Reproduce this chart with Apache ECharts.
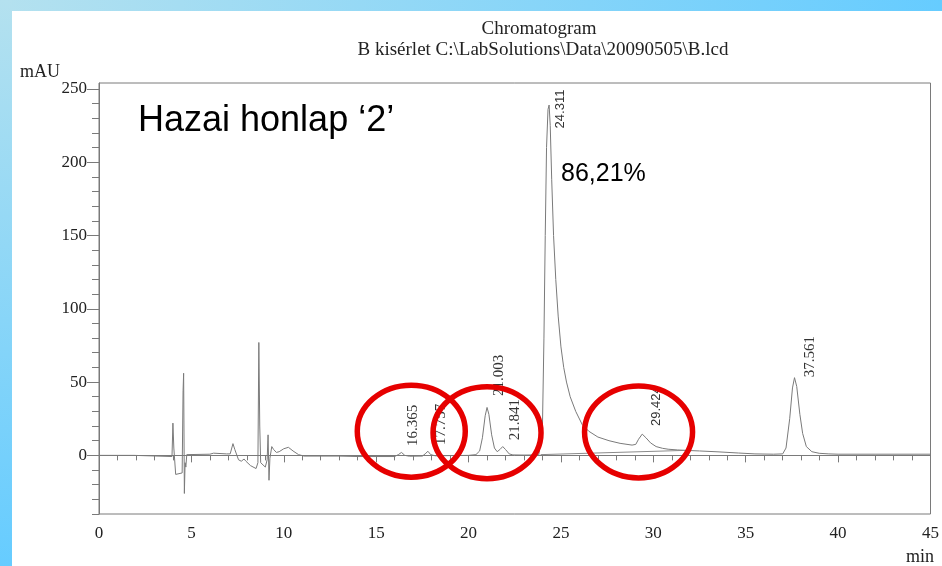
<!DOCTYPE html>
<html>
<head>
<meta charset="utf-8">
<script src="https://cdn.jsdelivr.net/npm/echarts@6/dist/echarts.min.js"></script>
<style>
  html, body { margin: 0; padding: 0; background: #fff; }
  #wrap { position: relative; width: 942px; height: 566px; background: #fff; overflow: hidden; }
  #topBand { position: absolute; left: 0; top: 0; width: 942px; height: 11px; background: linear-gradient(to right, #b4e1ef, #66ccff); }
  #leftBand { position: absolute; left: 0; top: 0; width: 12px; height: 566px; background: linear-gradient(to bottom, #b4e1ef, #66ccff); }
  #main { position: absolute; left: 0; top: 0; width: 942px; height: 566px; }
</style>
</head>
<body>
<div id="wrap">
  <div id="topBand"></div>
  <div id="leftBand"></div>
  <div id="main"></div>
</div>
<script>
// detector signal (min, mAU)
var timeMin = [
  0, 1.9, 1.95, 3.95, 4.0, 4.05, 4.15, 4.2, 4.5, 4.55, 4.58, 4.62, 4.66, 4.7, 4.75,
  6.0, 6.2, 6.3, 6.9, 7.0, 7.1, 7.25, 7.35, 7.55, 7.7, 7.85, 7.95, 8.2, 8.5, 8.6,
  8.65, 8.7, 8.75, 8.85, 9.0, 9.1, 9.15, 9.2, 9.25, 9.35, 9.45, 9.6, 9.75, 10.0,
  10.25, 10.5, 10.8, 11.1, 12, 13, 14, 16.0, 16.2, 16.37, 16.55, 16.8, 17.5, 17.65,
  17.8, 17.95, 18.2, 20.0, 20.4, 20.6, 20.75, 20.9, 21.0, 21.1, 21.25, 21.4, 21.55,
  21.7, 21.85, 22.0, 22.2, 22.4, 23.0, 23.8, 23.9, 24.0, 24.08, 24.15, 24.22, 24.3,
  24.36, 24.42, 24.5, 24.6, 24.72, 24.85, 25.0, 25.15, 25.3, 25.5, 25.8, 26.15, 26.5,
  27.0, 27.6, 28.2, 28.85, 29.05, 29.2, 29.4, 29.6, 29.85, 30.15, 30.5, 30.8, 31.3,
  31.75, 32.5, 33.5, 34.6, 35.5, 36.5, 37.0, 37.18, 37.38, 37.53, 37.64, 37.76, 37.93,
  38.08, 38.28, 38.58, 38.98, 39.5, 40, 42, 45
];
var absMau = [
  0, 0, -0.8, -0.8, 22, 5, -13, -12, -12, 44, 56, -26, -5, -8, 0.5,
  0.8, 1.5, 0.8, 1, 2, 1, 8, 4, -3, -4, -2.5, -4, -7, -9, -5,
  77, 20, -5, -4, -8, -3, 14, -17, -2, 6, 4, 2, 2.5, 4.5,
  5.5, 3, 0.5, -0.5, -0.5, -0.5, -0.8, -0.8, 0.5, 2, 0, -0.6, -0.5, 1,
  2.8, 0.5, -0.3, 0, 0.5, 3, 12, 27, 32.7, 28, 14, 5, 2.5,
  4, 6, 4, 1, 0.3, 0.2, 0.3, 1, 20, 80, 150, 210, 236,
  239, 225, 188, 150, 120, 95, 74, 60, 50, 40, 30, 21, 16.5,
  12.5, 10, 8.2, 7, 7.5, 11, 14.5, 12, 8.5, 6, 4.8, 4.2, 3.7,
  3.4, 3.0, 2.4, 1.6, 1.0, 0.8, 1, 5, 25, 46, 53, 47, 28,
  15, 6, 2.5, 1.4, 1, 0.8, 0.8, 0.8
];

// integration baseline drawn under the main peak
var baseTime = [23.9, 31.75];
var baseMau = [0.5, 3.4];

// peak retention-time labels
var peakNames = ['16.365', '17.757', '21.003', '21.841', '24.311', '29.424', '37.561'];
var peakTime = [16.37, 17.8, 21.0, 21.85, 24.36, 29.4, 37.64];
var peakMau = [2, 2.8, 32.7, 6, 239, 14.5, 53];

// axis ticks
var xTickLabels = [0, 5, 10, 15, 20, 25, 30, 35, 40, 45];
var yTickLabels = [0, 50, 100, 150, 200, 250];
var yMinorTicks = [-40, -30, -20, -10, 0, 10, 20, 30, 40, 50, 60, 70, 80, 90, 100, 110, 120,
  130, 140, 150, 160, 170, 180, 190, 200, 210, 220, 230, 240, 250];

// red hand-drawn rings (centre in data units)
var ringTime = [16.9, 21.0, 29.2];
var ringMau = [16.5, 15.5, 16];

var serif = '"Liberation Serif", "DejaVu Serif", serif';
var sans = '"Liberation Sans", Arial, sans-serif';

var chart = echarts.init(document.getElementById('main'));

var signal = timeMin.map(function (t, i) { return [t, absMau[i]]; });
var baseline = baseTime.map(function (t, i) { return [t, baseMau[i]]; });

var option = {
  animation: false,
  backgroundColor: 'transparent',
  grid: {
    left: 99, right: 10, top: 83, bottom: 52,
    show: true, borderColor: '#7a7a7a', borderWidth: 1, backgroundColor: 'transparent'
  },
  xAxis: {
    type: 'value', min: 0, max: 45, interval: 5,
    axisLine: { show: true, lineStyle: { color: '#7a7a7a', width: 1 } },
    axisTick: { show: true, length: 7, lineStyle: { color: '#7a7a7a' } },
    minorTick: { show: true, splitNumber: 5, length: 5, lineStyle: { color: '#7a7a7a' } },
    axisLabel: {
      customValues: xTickLabels,
      margin: 11, color: '#222', fontFamily: serif, fontSize: 17
    },
    splitLine: { show: false }
  },
  yAxis: [{
    type: 'value', min: -40, max: 254,
    axisLine: { show: true, lineStyle: { color: '#7a7a7a', width: 1 } },
    axisTick: { show: true, customValues: yMinorTicks, length: 7, lineStyle: { color: '#7a7a7a' } },
    axisLabel: {
      customValues: yTickLabels,
      margin: 12, color: '#222', fontFamily: serif, fontSize: 17
    },
    splitLine: { show: false }
  }, {
    type: 'value', min: -40, max: 254, position: 'left',
    axisLine: { show: false },
    axisTick: { show: true, customValues: yTickLabels, length: 12, lineStyle: { color: '#7a7a7a' } },
    axisLabel: { show: false },
    splitLine: { show: false }
  }],
  series: [{
    type: 'line', data: signal, symbol: 'none', clip: true,
    lineStyle: { color: '#7a7a7a', width: 1 }
  }, {
    type: 'line', data: baseline, symbol: 'none',
    lineStyle: { color: '#8a8a8a', width: 1 }
  }]
};
chart.setOption(option);

// texts and annotations placed from the data scale
var labelOffset = [[12, -27], [13, -27], [12, -32], [12, -27], [11, 4], [14, -28], [16, -21]];
var labelSans = [false, false, false, false, true, true, false];
var elements = [
  { type: 'text', x: 539, y: 29, style: { text: 'Chromatogram', font: '19px ' + serif, fill: '#222', align: 'center', verticalAlign: 'middle' } },
  { type: 'text', x: 543, y: 50, style: { text: 'B kisérlet C:\\LabSolutions\\Data\\20090505\\B.lcd', font: '19px ' + serif, fill: '#222', align: 'center', verticalAlign: 'middle' } },
  { type: 'text', x: 40, y: 72, style: { text: 'mAU', font: '18px ' + serif, fill: '#222', align: 'center', verticalAlign: 'middle' } },
  { type: 'text', x: 920, y: 557, style: { text: 'min', font: '18px ' + serif, fill: '#222', align: 'center', verticalAlign: 'middle' } },
  { type: 'text', x: 138, y: 121, style: { text: 'Hazai honlap \u20182\u2019', font: '36px ' + sans, fill: '#000', align: 'left', verticalAlign: 'middle' } },
  { type: 'text', x: 561, y: 174, style: { text: '86,21%', font: '25px ' + sans, fill: '#000', align: 'left', verticalAlign: 'middle' } }
];
peakNames.forEach(function (name, i) {
  var p = chart.convertToPixel({ gridIndex: 0 }, [peakTime[i], peakMau[i]]);
  elements.push({
    type: 'text', x: p[0] + labelOffset[i][0], y: p[1] + labelOffset[i][1], rotation: Math.PI / 2,
    style: {
      text: name, font: (labelSans[i] ? '13px ' + sans : '15px ' + serif), fill: '#333',
      align: 'center', verticalAlign: 'middle'
    }
  });
});
ringTime.forEach(function (t, i) {
  var c = chart.convertToPixel({ gridIndex: 0 }, [t, ringMau[i]]);
  elements.push({
    type: 'ellipse', shape: { cx: c[0], cy: c[1], rx: 54, ry: 46 },
    style: { fill: 'none', stroke: '#e60000', lineWidth: 5.5 }, z: 100
  });
});
chart.setOption({ graphic: { elements: elements } });
</script>
</body>
</html>
